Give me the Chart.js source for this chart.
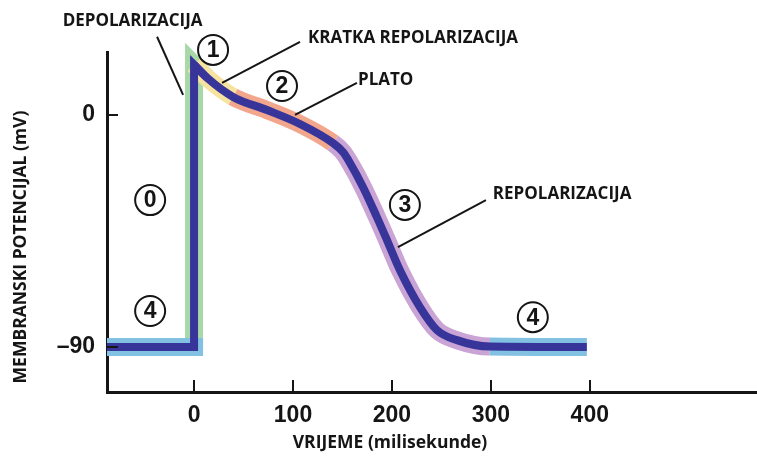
<!DOCTYPE html>
<html><head><meta charset="utf-8">
<script src="https://cdn.jsdelivr.net/npm/chart.js@4.4.1/dist/chart.umd.min.js"></script>
<style>html,body{margin:0;padding:0;background:#fff}</style>
</head><body>
<canvas id="c" width="757" height="461"></canvas>
<script>
// ---- data ----
const timeMs      = [-88, 0, 0, 13.1, 39.4, 73.7, 107, 140.4, 150.5, 157.6, 170.7, 184.8, 195, 208, 228.3, 245.5, 265.7, 299, 397];
const potentialMv = [-90, -90, 19.5, 14.4, 7.0, 1.9, -3.5, -10.9, -14.4, -18.6, -27.9, -39.6, -48.5, -60.1, -74.5, -83.4, -87.3, -89.8, -90];
const xTicks = [0, 100, 200, 300, 400];
const yTicks = [0, -90];
const yTickLabels = ['0', '–90'];
const phaseEndsMs = [39.4, 140.4, 299, 400];            // phase 1, 2, 3, 4 end
const xTitle = 'VRIJEME (milisekunde)';
const yTitle = 'MEMBRANSKI POTENCIJAL (mV)';
const phaseLabels = ['DEPOLARIZACIJA', 'KRATKA REPOLARIZACIJA', 'PLATO', 'REPOLARIZACIJA'];
const phaseLabelX = [-62.1, 115.2, 165.7, 302];
const phaseLabelY = [36.5, 29.9, 13.6, -30.6];
const phaseLabelAlign = ['center', 'left', 'left', 'left'];
const leaderFromX = [-37.4, 28.3, 102, 206.1];
const leaderFromY = [30.3, 12.4, 0, -51.2];
const leaderToX = [-11.1, 107.1, 164.6, 295];
const leaderToY = [7.8, 28.3, 12.4, -33];
const phaseNumbers = ['0', '1', '2', '3', '4', '4'];
const phaseNumberX = [-44.4, 19.2, 88.9, 213.1, -44.4, 342.4];
const phaseNumberY = [-33, 25.2, 11.2, -34.9, -76, -78.4];

// ---- styles ----
const DARK = '#37349a';
const GREEN = '#a9d8a8';
const REST = '#82c1e1';
const phaseColors = ['#f7e3a0', '#f2a68c', '#c9a4d4', REST];
const INK = '#151515';

const toPts = (xs, ys) => xs.map((x, i) => ({x, y: ys[i]}));
const restAndUp = toPts(timeMs.slice(0, 4), potentialMv.slice(0, 4));
const upstroke = toPts(timeMs.slice(1, 4), potentialMv.slice(1, 4));
const restLeft = toPts(timeMs.slice(0, 2), potentialMv.slice(0, 2));
const curveX = timeMs.slice(2);
const curve = toPts(curveX, potentialMv.slice(2));

function phaseColor(x) {
  for (let i = 0; i < phaseEndsMs.length; i++) if (x < phaseEndsMs[i] - 0.01) return phaseColors[i];
  return phaseColors[phaseColors.length - 1];
}

const bandClip = {left: 0, right: 0, top: 40, bottom: 0};

const annot = {
  id: 'annot',
  afterDraw(chart) {
    const {ctx, scales: {x, y}, chartArea: ca} = chart;
    ctx.save();
    // inside tick marks
    ctx.strokeStyle = INK; ctx.lineWidth = 2;
    xTicks.forEach(v => {
      const px = Math.round(x.getPixelForValue(v));
      ctx.beginPath(); ctx.moveTo(px, ca.bottom); ctx.lineTo(px, ca.bottom - 12); ctx.stroke();
    });
    yTicks.forEach(v => {
      const py = Math.round(y.getPixelForValue(v));
      ctx.beginPath(); ctx.moveTo(ca.left, py); ctx.lineTo(ca.left + 11, py); ctx.stroke();
    });
    // leader lines
    ctx.lineWidth = 2;
    for (let i = 0; i < leaderFromX.length; i++) {
      ctx.beginPath();
      ctx.moveTo(x.getPixelForValue(leaderFromX[i]), y.getPixelForValue(leaderFromY[i]));
      ctx.lineTo(x.getPixelForValue(leaderToX[i]), y.getPixelForValue(leaderToY[i]));
      ctx.stroke();
    }
    // labels
    ctx.fillStyle = INK;
    ctx.textBaseline = 'middle';
    ctx.font = 'bold 17px "Open Sans"';
    for (let i = 0; i < phaseLabels.length; i++) {
      ctx.textAlign = phaseLabelAlign[i];
      ctx.fillText(phaseLabels[i], x.getPixelForValue(phaseLabelX[i]), y.getPixelForValue(phaseLabelY[i]));
    }
    // circled numbers
    ctx.textAlign = 'center';
    for (let i = 0; i < phaseNumbers.length; i++) {
      const cx = x.getPixelForValue(phaseNumberX[i]), cy = y.getPixelForValue(phaseNumberY[i]);
      ctx.beginPath(); ctx.arc(cx, cy, 15, 0, Math.PI * 2);
      ctx.fillStyle = '#fff'; ctx.fill();
      ctx.lineWidth = 2; ctx.strokeStyle = INK; ctx.stroke();
      ctx.fillStyle = INK;
      ctx.font = 'bold 23px "Liberation Sans"';
      ctx.fillText(phaseNumbers[i], cx, cy + 1);
    }
    // axis titles
    ctx.font = 'bold 17.5px "Open Sans"';
    ctx.fillText(xTitle, 390, 443);
    ctx.translate(21, 247);
    ctx.rotate(-Math.PI / 2);
    ctx.fillText(yTitle, 0, 0);
    ctx.restore();
  }
};

new Chart(document.getElementById('c'), {
  type: 'line',
  data: {
    datasets: [
      {data: restAndUp, borderColor: DARK, borderWidth: 8, borderJoinStyle: 'miter', borderCapStyle: 'butt', tension: 0, order: 0, clip: bandClip},
      {data: curve, borderColor: DARK, borderWidth: 8, cubicInterpolationMode: 'monotone', borderCapStyle: 'butt', order: 1, clip: bandClip},
      {data: curve, borderColor: phaseColors[0], borderWidth: 18, cubicInterpolationMode: 'monotone', borderCapStyle: 'butt', order: 2, clip: bandClip,
        segment: {borderColor: c => phaseColor(curveX[c.p0DataIndex])}},
      {data: restLeft, borderColor: REST, borderWidth: 18, borderCapStyle: 'square', tension: 0, order: 3, clip: bandClip},
      {data: upstroke, borderColor: GREEN, borderWidth: 18, borderJoinStyle: 'miter', borderCapStyle: 'butt', tension: 0, order: 4, clip: bandClip}
    ]
  },
  options: {
    responsive: false,
    devicePixelRatio: 1,
    animation: false,
    events: [],
    elements: {point: {radius: 0}},
    layout: {padding: {left: 0, top: 52, right: 0, bottom: 0}},
    plugins: {legend: {display: false}, tooltip: {enabled: false}},
    scales: {
      x: {
        type: 'linear', min: -88, max: 569,
        afterFit: s => { s.height = 69; },
        afterBuildTicks: s => { s.ticks = xTicks.map(v => ({value: v})); },
        grid: {display: false},
        border: {display: true, color: INK, width: 3},
        ticks: {padding: 2, color: INK, font: {family: '"Liberation Sans"', size: 23, weight: 'bold'}, maxRotation: 0, autoSkip: false}
      },
      y: {
        type: 'linear', min: -107.4, max: 24.4,
        afterFit: s => { s.width = 107; },
        afterBuildTicks: s => { s.ticks = yTicks.map(v => ({value: v})); },
        grid: {display: false},
        border: {display: true, color: INK, width: 3},
        ticks: {padding: 4, color: INK, font: {family: '"Liberation Sans"', size: 23, weight: 'bold'},
          callback: v => yTickLabels[yTicks.indexOf(v)]}
      }
    }
  },
  plugins: [annot]
});
</script>
</body></html>
